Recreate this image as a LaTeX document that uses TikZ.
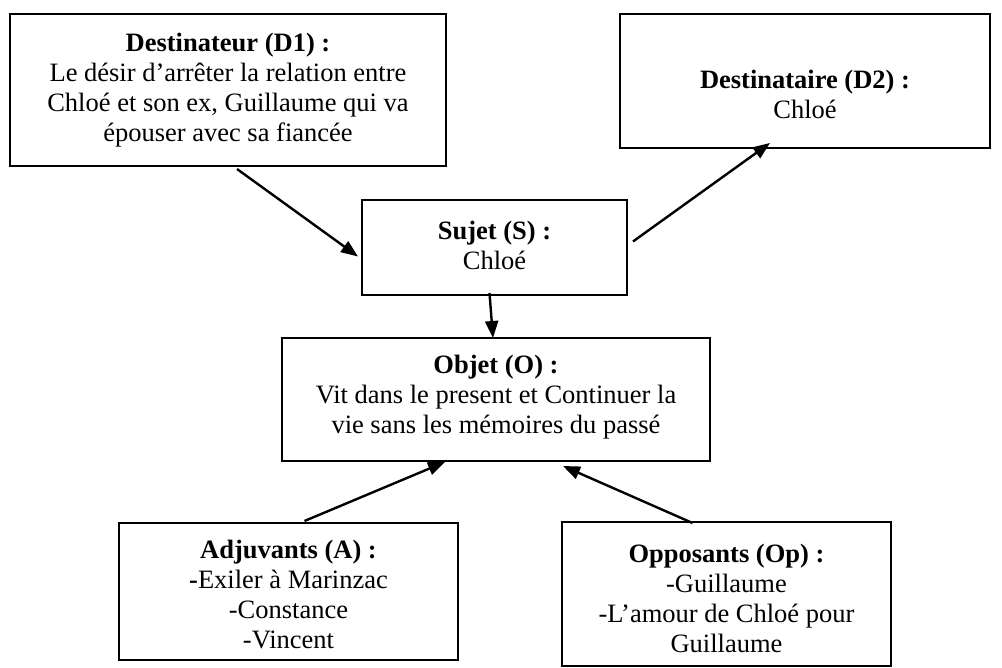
\documentclass[tikz,border=0pt]{standalone}
\usepackage{fontspec}
\setmainfont{Liberation Serif}
\usetikzlibrary{arrows.meta,calc}
\begin{document}
\begin{tikzpicture}[x=1pt,y=-1pt,
  box/.style={draw=black,line width=2pt,minimum width=#1,inner sep=0pt},
  txt/.style={align=center,inner sep=0pt,font=\fontsize{26.5}{30}\selectfont},
  arr/.style={line width=2.4pt,-{Triangle[length=17pt,width=13pt]}}]
\useasboundingbox (0,0) rectangle (1002,668);
% boxes
\node[box=436pt,minimum height=152pt] (d1) at (228,90) {};
\node[box=370pt,minimum height=134pt] (d2) at (805,81) {};
\node[box=265pt,minimum height=95pt] (s) at (494.5,247.5) {};
\node[box=428pt,minimum height=123pt] (o) at (496,399.5) {};
\node[box=339pt,minimum height=137pt] (a) at (288.5,591.5) {};
\node[box=329pt,minimum height=144pt] (op) at (726.5,594) {};
% texts
\node[txt] (d1t) at (228,90) {\textbf{Destinateur (D1) :}\\Le désir d’arrêter la relation entre\\Chloé et son ex, Guillaume qui va\\épouser avec sa fiancée};
\node[txt] (d2t) at (805,94) {\textbf{Destinataire (D2) :}\\Chloé};
\node[txt] (st) at (494.5,245) {\textbf{Sujet (S) :}\\Chloé};
\node[txt] (ot) at (496,397) {\textbf{Objet (O) :}\\Vit dans le present et Continuer la\\vie sans les mémoires du passé};
\node[txt] (at) at (288.5,595) {\textbf{Adjuvants (A) :}\\\textbf{-}Exiler à Marinzac\\-Constance\\-Vincent};
\node[txt] (opt) at (726.5,598) {\textbf{Opposants (Op) :}\\-Guillaume\\-L’amour de Chloé pour\\Guillaume};
% connectors
\draw[arr] ($(d1.south)+(9,2)$) -- ($(s.west)+(-3,9)$);
\draw[arr] ($(s.east)+(5,-6)$) -- ($(d2.south)+(-35,-6)$);
\draw[arr] ($(s.south)+(-5,-3)$) -- ($(o.north)+(-3,1)$);
\draw[arr] ($(a.north)+(16,-1)$) -- ($(o.south)+(-51,0)$);
\draw[arr] ($(op.north)+(-34,2)$) -- ($(o.south)+(67,4)$);
\end{tikzpicture}
\end{document}
